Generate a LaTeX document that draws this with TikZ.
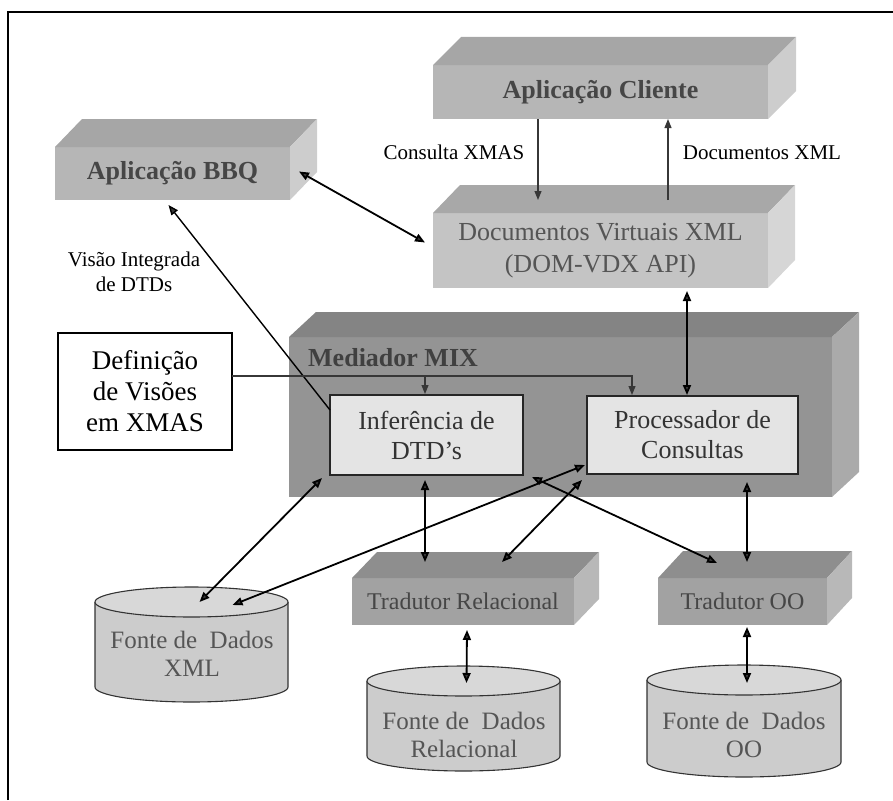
\documentclass[tikz,border=0pt]{standalone}
\usepackage{fontspec}
\setmainfont{Liberation Serif}
\usetikzlibrary{arrows.meta,calc}

% colours of the solid blocks: front, top and side faces
\definecolor{cliF}{RGB}{182,182,182}
\definecolor{cliT}{RGB}{166,166,166}
\definecolor{cliS}{RGB}{205,205,205}
\definecolor{dvxF}{RGB}{196,196,196}
\definecolor{dvxT}{RGB}{168,168,168}
\definecolor{dvxS}{RGB}{214,214,214}
\definecolor{mixF}{RGB}{148,148,148}
\definecolor{mixT}{RGB}{132,132,132}
\definecolor{mixS}{RGB}{170,170,170}
\definecolor{trF}{RGB}{162,162,162}
\definecolor{trT}{RGB}{142,142,142}
\definecolor{trS}{RGB}{184,184,184}
\definecolor{boxF}{RGB}{228,228,228}
\definecolor{cylF}{RGB}{204,204,204}
\definecolor{cylT}{RGB}{216,216,216}
\definecolor{txtA}{RGB}{70,70,70}
\definecolor{txtB}{RGB}{85,85,85}
\definecolor{lineG}{RGB}{55,55,55}

% top and side faces of a block whose front face is node #1
\newcommand\blockfaces[5]{%
  \fill[#4] (#1.north west) -- ++(#2,-#3) -- ($(#1.north east)+(#2,-#3)$) -- (#1.north east) -- cycle;
  \fill[#5] (#1.north east) -- ++(#2,-#3) -- ($(#1.south east)+(#2,-#3)$) -- (#1.south east) -- cycle;
}

% cylinder: #1 name, #2 centre x, #3 top y, #4 bottom y, #5 x radius, #6 y radius
\newcommand\datacyl[6]{%
  \fill[cylF] (#2-#5,#3) -- (#2-#5,#4) arc[start angle=180,end angle=0,x radius=#5,y radius=#6] -- (#2+#5,#3) -- cycle;
  \draw[cylline] (#2-#5,#3) -- (#2-#5,#4) arc[start angle=180,end angle=0,x radius=#5,y radius=#6] -- (#2+#5,#3);
  \draw[cylline,fill=cylT] (#2,#3) ellipse[x radius=#5,y radius=#6];
  \coordinate (#1) at (#2,#3);
}

\begin{document}
\begin{tikzpicture}[x=1pt,y=-1pt,
  front/.style={inner sep=0pt, outer sep=0pt, anchor=north west, align=center},
  bigbold/.style={font=\fontsize{26}{31}\selectfont\bfseries, text=txtA},
  bigtext/.style={font=\fontsize{26}{32}\selectfont, text=txtB},
  boxtext/.style={font=\fontsize{26}{30}\selectfont, text=black!80},
  trtext/.style={font=\fontsize{24}{28}\selectfont, text=txtA},
  cyltext/.style={font=\fontsize{25}{28}\selectfont, text=txtB},
  label/.style={font=\fontsize{21}{25}\selectfont, align=center, inner sep=0pt},
  innerbox/.style={front, fill=boxF, draw=black!85, line width=1.1pt},
  cylline/.style={draw=black!80, line width=1.1pt},
  heavy/.style={line width=1.8pt, draw=black,
    {Triangle[length=10pt,width=8pt,fill=lineG]}-{Triangle[length=10pt,width=8pt,fill=lineG]}},
  single/.style={line width=1.4pt, draw=black, -{Triangle[length=10pt,width=8pt,fill=lineG]}},
  lightarrow/.style={line width=1.1pt, draw=lineG, -{Triangle[length=9pt,width=7pt,fill=lineG]}},
  feed/.style={line width=1.1pt, draw=lineG},
]
\useasboundingbox (0,0) rectangle (893,800);

% frame
\draw[line width=1.6pt] (8,800) -- (8,12) -- (893,12);

% client application
\node[front, fill=cliF, minimum width=335pt, minimum height=54pt, bigbold] (cli) at (433,65) {Aplicação Cliente};
\blockfaces{cli}{28}{28}{cliT}{cliS}

% BBQ application
\node[front, fill=cliF, minimum width=235pt, minimum height=53pt, bigbold] (bbq) at (55,147) {Aplicação BBQ};
\blockfaces{bbq}{27}{28}{cliT}{cliS}

% virtual XML documents
\node[front, fill=dvxF, minimum width=335pt, minimum height=75pt, bigtext] (dvx) at (433,213) {Documentos Virtuais XML\\(DOM-VDX API)};
\blockfaces{dvx}{27}{28}{dvxT}{dvxS}

% MIX mediator
\node[front, fill=mixF, minimum width=543pt, minimum height=160pt] (mix) at (289,337) {};
\blockfaces{mix}{27}{25}{mixT}{mixS}
\node[anchor=west, inner sep=0pt, bigbold, text=black!75] (mixlabel) at (308,358) {Mediador MIX};

\node[innerbox, minimum width=193pt, minimum height=80pt, boxtext] (inf) at (330,395) {Inferência de\\DTD’s};
\node[innerbox, minimum width=211pt, minimum height=78pt, boxtext] (proc) at (587,396) {Processador de\\Consultas};

% view definition
\node[front, fill=white, draw=black, line width=1.5pt, minimum width=174pt, minimum height=117pt,
      font=\fontsize{27}{31}\selectfont] (def) at (58,333) {Definição\\de Visões\\em XMAS};

% translators
\node[front, fill=trF, minimum width=222pt, minimum height=47pt, trtext] (trel) at (352,578) {Tradutor Relacional};
\blockfaces{trel}{25}{26}{trT}{trS}
\node[front, fill=trF, minimum width=169pt, minimum height=47pt, trtext] (too) at (658,578) {Tradutor OO};
\blockfaces{too}{25}{27}{trT}{trS}

% data sources
\datacyl{fxml}{191.5}{602}{687}{96.5}{15}
\node[cyltext, align=center, inner sep=0pt] (fxmlt) at (192,654) {Fonte de\ \ Dados\\XML};
\datacyl{frel}{463.5}{681}{756}{96.5}{15}
\node[cyltext, align=center, inner sep=0pt] (frelt) at (464,735) {Fonte de\ \ Dados\\Relacional};
\datacyl{foo}{744}{680}{762}{97}{15}
\node[cyltext, align=center, inner sep=0pt] (foot) at (744,735) {Fonte de\ \ Dados\\OO};

% edge labels
\node[label] (lq) at (454,152) {Consulta XMAS};
\node[label] (ld) at (762,153) {Documentos XML};
\node[label] (lv) at (134,272) {Visão Integrada\\de DTDs};

% client <-> virtual documents
\draw[lightarrow] ($(cli.south west)+(105,0)$) -- ($(dvx.north west)+(105,-13)$);
\draw[lightarrow] ($(dvx.north west)+(235,-13)$) -- ($(cli.south west)+(235,0)$);

% BBQ <-> virtual documents
\draw[heavy] ($(bbq.east)+(9,-2)$) -- ($(dvx.west)+(-8,-8)$);

% integrated view of DTDs
\draw[single] ($(inf.north west)+(0,15)$) -- ($(bbq.south)+(-4,5)$);

% virtual documents <-> query processor
\draw[heavy] ($(dvx.south west)+(254,3)$) -- ($(proc.north west)+(100,-1)$);

% view definitions feeding both components
\coordinate (vjoin) at ($(inf.north west)+(95,-19)$);
\draw[feed] ($(def.north east)+(0,43)$) -| ($(proc.north west)+(45,-19)$);
\draw[lightarrow] ($(proc.north west)+(45,-19)$) -- ($(proc.north west)+(45,-1)$);
\draw[lightarrow] (vjoin) -- ($(inf.north west)+(95,-1)$);

% mediator <-> translators and XML source
\draw[heavy] ($(inf.south west)+(-8,3)$) -- ($(fxml)+(8,0)$);
\draw[heavy] ($(inf.south west)+(95,5)$) -- ($(trel.north west)+(73,-16)$);
\draw[heavy] ($(inf.south east)+(9,2)$) -- ($(too.north west)+(59,-15)$);
\draw[heavy] ($(proc.south west)+(-2,-9)$) -- ($(fxml)+(41,3)$);
\draw[heavy] ($(proc.south west)+(-5,6)$) -- ($(trel.north west)+(150,-16)$);
\draw[heavy] ($(proc.south west)+(160,8)$) -- ($(too.north west)+(89,-16)$);

% translators <-> data sources
\draw[heavy] ($(trel.south west)+(115,5)$) -- ($(frel)+(3,2)$);
\draw[heavy] ($(too.south west)+(89,2)$) -- ($(foo)+(3,3)$);
\end{tikzpicture}
\end{document}
